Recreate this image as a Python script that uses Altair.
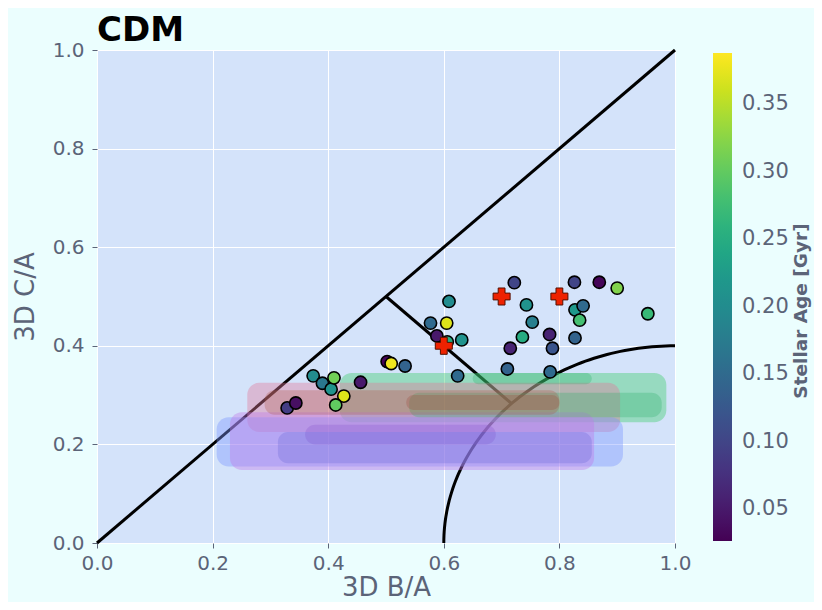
import altair as alt
import pandas as pd
import numpy as np

# ---- scatter data (3D B/A, 3D C/A, stellar age) ----
ba = [0.329, 0.344, 0.374, 0.390, 0.405, 0.410, 0.427, 0.413, 0.456, 0.502,
      0.509, 0.533, 0.624, 0.710, 0.784, 0.609, 0.577, 0.605, 0.588, 0.606,
      0.631, 0.722, 0.743, 0.753, 0.736, 0.715, 0.826, 0.869, 0.900, 0.953,
      0.827, 0.841, 0.835, 0.783, 0.788, 0.827]
ca = [0.274, 0.284, 0.339, 0.324, 0.312, 0.335, 0.298, 0.280, 0.326, 0.368,
      0.364, 0.359, 0.339, 0.353, 0.347, 0.490, 0.446, 0.446, 0.420, 0.408,
      0.412, 0.528, 0.483, 0.448, 0.418, 0.395, 0.529, 0.529, 0.517, 0.465,
      0.473, 0.481, 0.452, 0.423, 0.395, 0.416]
age = [0.09, 0.04, 0.20, 0.17, 0.21, 0.31, 0.37, 0.30, 0.05, 0.03,
       0.38, 0.14, 0.15, 0.14, 0.15, 0.20, 0.15, 0.37, 0.05, 0.25,
       0.21, 0.10, 0.21, 0.18, 0.25, 0.06, 0.10, 0.03, 0.32, 0.27,
       0.22, 0.15, 0.28, 0.06, 0.12, 0.14]

# ---- red cross markers ----
cross_ba = [0.6, 0.7, 0.8]
cross_ca = [0.4, 0.5, 0.5]

# ---- contour blobs (approximated as rounded regions) ----
blob_color = ["#3ccc6a", "#e27a9a", "#7a96ff", "#c07ae8",
              "#2fae6a", "#2fae6a", "#b05a4a", "#a05040", "#8a5ad0", "#6a66d8"]
blob_x0 = [0.42, 0.26, 0.207, 0.23, 0.54, 0.65, 0.29, 0.535, 0.36, 0.313]
blob_x1 = [0.985, 0.905, 0.91, 0.86, 0.977, 0.856, 0.80, 0.80, 0.69, 0.856]
blob_y0 = [0.245, 0.225, 0.155, 0.148, 0.255, 0.322, 0.26, 0.27, 0.20, 0.162]
blob_y1 = [0.345, 0.325, 0.255, 0.265, 0.305, 0.345, 0.31, 0.30, 0.24, 0.225]
blob_kind = ["outer", "outer", "outer", "outer", "inner", "inner", "inner", "inner", "inner", "inner"]

# ---- reference guide lines ----
seg_x = [0.0, 0.5]
seg_y = [0.0, 0.5]
seg_x2 = [1.0, 0.717]
seg_y2 = [1.0, 0.283]
arc_r = 0.4  # circle of radius 0.4 centred on (1, 0)

colorbar_title = "Stellar Age [Gyr]"

pts = pd.DataFrame({"ba": ba, "ca": ca, "age": age})
crosses = pd.DataFrame({"ba": cross_ba, "ca": cross_ca})
blobs = pd.DataFrame({"c": blob_color, "x0": blob_x0, "x1": blob_x1,
                      "y0": blob_y0, "y1": blob_y1, "kind": blob_kind})
segs = pd.DataFrame({"x": seg_x, "y": seg_y, "x2": seg_x2, "y2": seg_y2})
t = np.linspace(np.pi / 2, np.pi, 80)
arc = pd.DataFrame({"x": 1 + arc_r * np.cos(t), "y": arc_r * np.sin(t), "o": np.arange(len(t))})

FONT = "DejaVu Sans"
GREY = "#5b6478"

xs = alt.Scale(domain=[0, 1], nice=False, zero=False)
ys = alt.Scale(domain=[0, 1], nice=False, zero=False)
xax = alt.Axis(values=[0, 0.2, 0.4, 0.6, 0.8, 1.0], format=".1f", title="3D B/A",
               labelPadding=5, titlePadding=1, labelFlush=False)
yax = alt.Axis(values=[0, 0.2, 0.4, 0.6, 0.8, 1.0], format=".1f", title="3D C/A",
               labelPadding=8, titlePadding=14, labelFlush=False)

lines = alt.Chart(segs).mark_rule(color="black", strokeWidth=3).encode(
    x=alt.X("x:Q", scale=xs, axis=xax), y=alt.Y("y:Q", scale=ys, axis=yax),
    x2="x2:Q", y2="y2:Q")

arcl = alt.Chart(arc).mark_line(color="black", strokeWidth=3).encode(
    x=alt.X("x:Q", scale=xs), y=alt.Y("y:Q", scale=ys), order="o:Q")

outer = alt.Chart(blobs).transform_filter("datum.kind == 'outer'").mark_rect(
    cornerRadius=12, opacity=0.4).encode(
    x=alt.X("x0:Q", scale=xs), x2="x1:Q", y=alt.Y("y0:Q", scale=ys), y2="y1:Q",
    color=alt.Color("c:N", scale=None))

inner = alt.Chart(blobs).transform_filter("datum.kind == 'inner'").mark_rect(
    cornerRadius=10, opacity=0.3).encode(
    x=alt.X("x0:Q", scale=xs), x2="x1:Q", y=alt.Y("y0:Q", scale=ys), y2="y1:Q",
    color=alt.Color("c:N", scale=None))

points = alt.Chart(pts).mark_circle(size=150, stroke="black", strokeWidth=1.6, opacity=1).encode(
    x=alt.X("ba:Q", scale=xs), y=alt.Y("ca:Q", scale=ys),
    fill=alt.Fill("age:Q", scale=alt.Scale(scheme="viridis", domain=[0.0265, 0.388], nice=False),
                  legend=alt.Legend(title=None, values=[0.05, 0.10, 0.15, 0.20, 0.25, 0.30, 0.35],
                                    format=".2f", gradientLength=488, gradientThickness=19,
                                    orient="none", legendX=616, legendY=3,
                                    labelFontSize=21, labelColor=GREY, labelOffset=10,
                                    labelFont=FONT, tickCount=7)))

crossm = alt.Chart(crosses).mark_point(shape="cross", filled=True, size=290, color="#ee2200",
                                       stroke="#551100", strokeWidth=1, opacity=1).encode(
    x=alt.X("ba:Q", scale=xs), y=alt.Y("ca:Q", scale=ys))

cbtitle = alt.Chart(pd.DataFrame({"t": [colorbar_title]})).mark_text(
    angle=270, font=FONT, fontSize=18.5, fontWeight="bold", color=GREY, baseline="middle",
    align="center").encode(text="t:N", x=alt.value(704), y=alt.value(261))

chart = alt.layer(lines, arcl, outer, inner, points, crossm, cbtitle).properties(
    width=578, height=493,
    autosize=alt.AutoSizeParams(type="none"),
    padding={"left": 89, "top": 42, "right": 139, "bottom": 59},
    title=alt.TitleParams("CDM", anchor="start", frame="group", fontSize=34, fontWeight="bold",
                          font=FONT, color="black", offset=6, dy=14),
).configure(background="#ebfefe").configure_view(fill="#d4e3fa", stroke=None).configure_axis(
    labelFont=FONT, titleFont=FONT, labelFontSize=20, titleFontSize=26,
    labelColor=GREY, titleColor=GREY, titleFontWeight="normal",
    gridColor="white", gridWidth=1, domain=False, tickColor=GREY, tickSize=5,
)

chart.save("out.html", embed_options={"renderer": "svg", "actions": False})
